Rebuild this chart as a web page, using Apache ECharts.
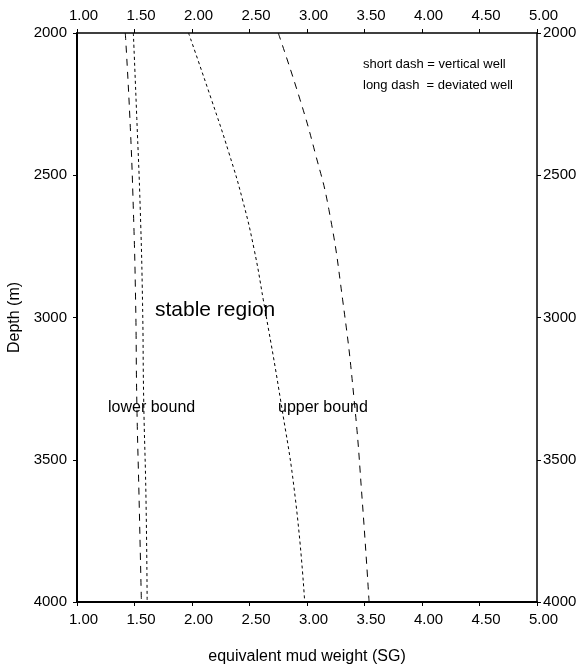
<!DOCTYPE html>
<html>
<head>
<meta charset="utf-8" />
<title>mud weight window</title>
<style>
  html, body { margin: 0; padding: 0; background: #fff; }
  #main { width: 586px; height: 665px; }
</style>
</head>
<body>
<div id="main"></div>
<script src="https://cdn.jsdelivr.net/npm/echarts@6/dist/echarts.min.js"></script>
<script type="text/javascript">
// depth (m) and equivalent mud weight (SG)
var lowerVertDepth = [2000, 2300, 2620, 2950, 3290, 3640, 4000];
var lowerVertSG    = [1.49, 1.52, 1.55, 1.57, 1.58, 1.60, 1.61];
var lowerDevDepth  = [2000, 2300, 2620, 2950, 3290, 3640, 4000];
var lowerDevSG     = [1.42, 1.46, 1.49, 1.51, 1.52, 1.54, 1.56];
var upperVertDepth = [2000, 2235, 2420, 2587, 2760, 2938, 3290, 3641, 4000];
var upperVertSG    = [1.97, 2.17, 2.32, 2.44, 2.54, 2.62, 2.77, 2.90, 2.98];
var upperDevDepth  = [2000, 2235, 2420, 2620, 2938, 3290, 3641, 4000];
var upperDevSG     = [2.75, 2.94, 3.07, 3.19, 3.31, 3.41, 3.48, 3.54];

var xTicks = [1.00, 1.50, 2.00, 2.50, 3.00, 3.50, 4.00, 4.50, 5.00];
var yTicks = [2000, 2500, 3000, 3500, 4000];

function pairs(sg, depth) {
    var out = [];
    for (var i = 0; i < sg.length; i++) out.push([sg[i], depth[i]]);
    return out;
}

var font = 'Liberation Sans, Arial, sans-serif';
var shortDash = [3, 3];
var longDash = [7, 6];

function xAxisCfg(pos) {
    return {
        type: 'value', position: pos,
        min: xTicks[0], max: xTicks[xTicks.length - 1], interval: 0.5,
        axisLine: { show: true, onZero: false, lineStyle: { color: '#000', width: pos == 'bottom' ? 2 : 1.5 } },
        axisTick: { show: true, length: 4, lineStyle: { color: '#000' } },
        axisLabel: { color: '#000', fontSize: 15, fontFamily: font, margin: 10,
            padding: [0, 0, 0, 13],
            formatter: function (v) { return v.toFixed(2); } },
        splitLine: { show: false }
    };
}
function yAxisCfg(pos) {
    var left = pos == 'left';
    return {
        type: 'value', position: pos, inverse: true,
        min: yTicks[0], max: yTicks[yTicks.length - 1], interval: 500,
        axisLine: { show: true, onZero: false, lineStyle: { color: '#000', width: left ? 2 : 1.5 } },
        axisTick: { show: true, length: 4, lineStyle: { color: '#000' } },
        axisLabel: { color: '#000', fontSize: 15, fontFamily: font, margin: left ? 10 : 6,
            padding: left ? [0, 0, 6, 0] : [0, 0, 10, 0],
            formatter: function (v) { return String(v); } },
        splitLine: { show: false }
    };
}

var xb = xAxisCfg('bottom');
xb.name = 'equivalent mud weight (SG)';
xb.nameLocation = 'middle';
xb.nameGap = 47;
xb.nameTextStyle = { color: '#000', fontSize: 16, fontFamily: font };
var yl = yAxisCfg('left');
yl.name = 'Depth (m)';
yl.nameLocation = 'middle';
yl.nameGap = 54;
yl.nameTextStyle = { color: '#000', fontSize: 16, fontFamily: font };

function curve(name, sg, depth, dash) {
    return {
        name: name, type: 'line', smooth: true, symbol: 'none',
        data: pairs(sg, depth),
        lineStyle: { color: '#000', width: 1, type: dash },
        silent: true
    };
}

var myChart = echarts.init(document.getElementById('main'));
var option = {
    backgroundColor: '#fff',
    animation: false,
    grid: { left: 77, right: 49, top: 33, bottom: 63, containLabel: false, outerBoundsMode: 'none' },
    xAxis: [xb, xAxisCfg('top')],
    yAxis: [yl, yAxisCfg('right')],
    series: [
        curve('lower vertical', lowerVertSG, lowerVertDepth, shortDash),
        curve('lower deviated', lowerDevSG, lowerDevDepth, longDash),
        curve('upper vertical', upperVertSG, upperVertDepth, shortDash),
        curve('upper deviated', upperDevSG, upperDevDepth, longDash)
    ],
    graphic: [
        { type: 'text', left: 155, top: 300,
          style: { text: 'stable region', fill: '#000', font: '21px ' + font } },
        { type: 'text', left: 108, top: 400,
          style: { text: 'lower bound', fill: '#000', font: '16px ' + font } },
        { type: 'text', left: 278, top: 400,
          style: { text: 'upper bound', fill: '#000', font: '16px ' + font } },
        { type: 'text', left: 363, top: 58,
          style: { text: 'short dash = vertical well', fill: '#000', font: '13px ' + font } },
        { type: 'text', left: 363, top: 79,
          style: { text: 'long dash  = deviated well', fill: '#000', font: '13px ' + font } }
    ]
};
myChart.setOption(option);
</script>
</body>
</html>
